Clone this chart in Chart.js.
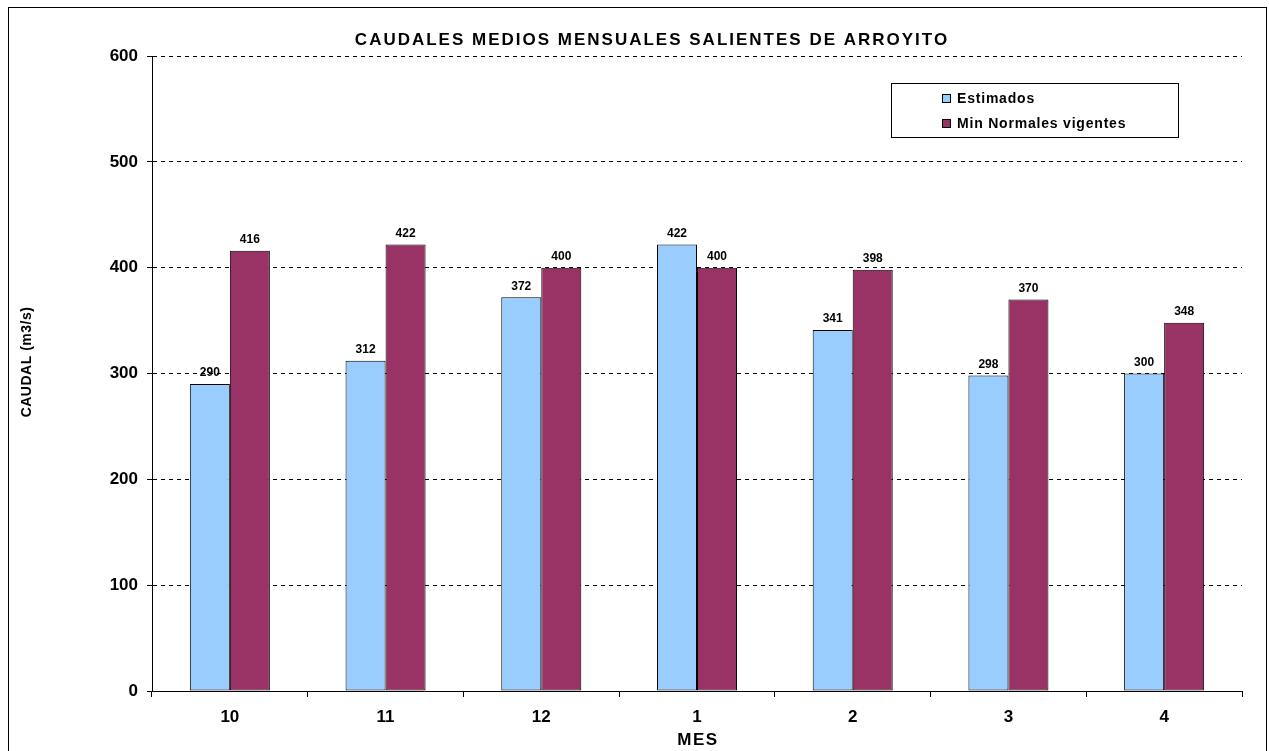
<!DOCTYPE html>
<html>
<head>
<meta charset="utf-8">
<script src="https://cdn.jsdelivr.net/npm/chart.js@4.4.0/dist/chart.umd.min.js"></script>
<style>
  html, body { margin: 0; padding: 0; background: #fff; }
  #wrap { width: 1269px; height: 751px; }
</style>
</head>
<body>
<div id="wrap"><canvas id="caudales" width="1269" height="751"></canvas></div>
<script>
// datos
const meses = ['10', '11', '12', '1', '2', '3', '4'];
const estimados = [290, 312, 372, 422, 341, 298, 300];
const minNormales = [416, 422, 400, 400, 398, 370, 348];
const titulo = 'CAUDALES MEDIOS MENSUALES SALIENTES DE ARROYITO';
const tituloY = 'CAUDAL (m3/s)';
const tituloX = 'MES';

const fuente = "'Liberation Sans', Arial, sans-serif";

// etiquetas sobre las barras, titulos, leyenda y marco
const extras = {
  id: 'extras',
  beforeDraw(chart) {
    const ctx = chart.ctx;
    ctx.save();
    ctx.fillStyle = '#fff';
    ctx.fillRect(0, 0, chart.width, chart.height);
    ctx.strokeStyle = '#000';
    ctx.lineWidth = 1;
    ctx.strokeRect(8.5, 7.5, 1258, 760);
    ctx.restore();
  },
  afterDatasetsDraw(chart) {
    const ctx = chart.ctx;
    ctx.save();
    ctx.font = 'bold 12px ' + fuente;
    ctx.fillStyle = '#000';
    ctx.textAlign = 'center';
    ctx.textBaseline = 'bottom';
    chart.data.datasets.forEach((ds, i) => {
      chart.getDatasetMeta(i).data.forEach((bar, j) => {
        ctx.fillText(ds.data[j], bar.x, bar.y - 5);
      });
    });

    ctx.textBaseline = 'middle';
    // titulo
    ctx.font = 'bold 17px ' + fuente;
    ctx.letterSpacing = '2px';
    ctx.fillText(titulo, 652, 40);
    // titulo eje x
    ctx.font = 'bold 17px ' + fuente;
    ctx.letterSpacing = '1.5px';
    ctx.fillText(tituloX, 698, 740);
    // titulo eje y
    ctx.save();
    ctx.translate(27, 362);
    ctx.rotate(-Math.PI / 2);
    ctx.font = 'bold 14px ' + fuente;
    ctx.letterSpacing = '0.5px';
    ctx.fillText(tituloY, 0, 0);
    ctx.restore();

    // leyenda
    const lx = 891, ly = 83, lw = 287, lh = 54;
    ctx.strokeStyle = '#000';
    ctx.lineWidth = 1;
    ctx.strokeRect(lx + 0.5, ly + 0.5, lw, lh);
    ctx.font = 'bold 14px ' + fuente;
    ctx.letterSpacing = '0.8px';
    ctx.textAlign = 'left';
    chart.data.datasets.forEach((ds, i) => {
      const y = ly + 15 + i * 25;
      ctx.fillStyle = ds.backgroundColor;
      ctx.fillRect(942, y - 4, 9, 9);
      ctx.strokeStyle = '#000';
      ctx.strokeRect(942.5, y - 3.5, 8, 8);
      ctx.fillStyle = '#000';
      ctx.fillText(ds.label, 957, y + 1);
    });
    ctx.restore();
  }
};

new Chart(document.getElementById('caudales'), {
  type: 'bar',
  data: {
    labels: meses,
    datasets: [{
      label: 'Estimados',
      data: estimados,
      backgroundColor: '#99CCFF',
      borderColor: '#000',
      borderWidth: 1,
      borderSkipped: false
    }, {
      label: 'Min Normales vigentes',
      data: minNormales,
      backgroundColor: '#993366',
      borderColor: '#000',
      borderWidth: 1,
      borderSkipped: false
    }]
  },
  options: {
    responsive: false,
    animation: false,
    layout: { padding: { left: 8, top: 56, right: 27, bottom: 0 } },
    plugins: {
      legend: { display: false },
      title: { display: false },
      tooltip: { enabled: false }
    },
    datasets: {
      bar: { categoryPercentage: 0.514, barPercentage: 1 }
    },
    scales: {
      x: {
        offset: true,
        grid: { offset: true, drawOnChartArea: false, drawTicks: true, tickLength: 6, color: '#000' },
        border: { color: '#000', width: 1 },
        ticks: { color: '#000', font: { family: fuente, size: 17, weight: 'bold' }, padding: 10 },
        afterFit(s) { s.height = 60; }
      },
      y: {
        min: 0,
        max: 600,
        ticks: { stepSize: 100, color: '#000', font: { family: fuente, size: 17, weight: 'bold' }, padding: 9 },
        grid: { color: '#000', tickLength: 5, tickBorderDash: [], drawTicks: true },
        border: { color: '#000', width: 1, dash: [4, 4] },
        afterFit(s) { s.width = 144; }
      }
    }
  },
  plugins: [extras]
});
</script>
</body>
</html>
